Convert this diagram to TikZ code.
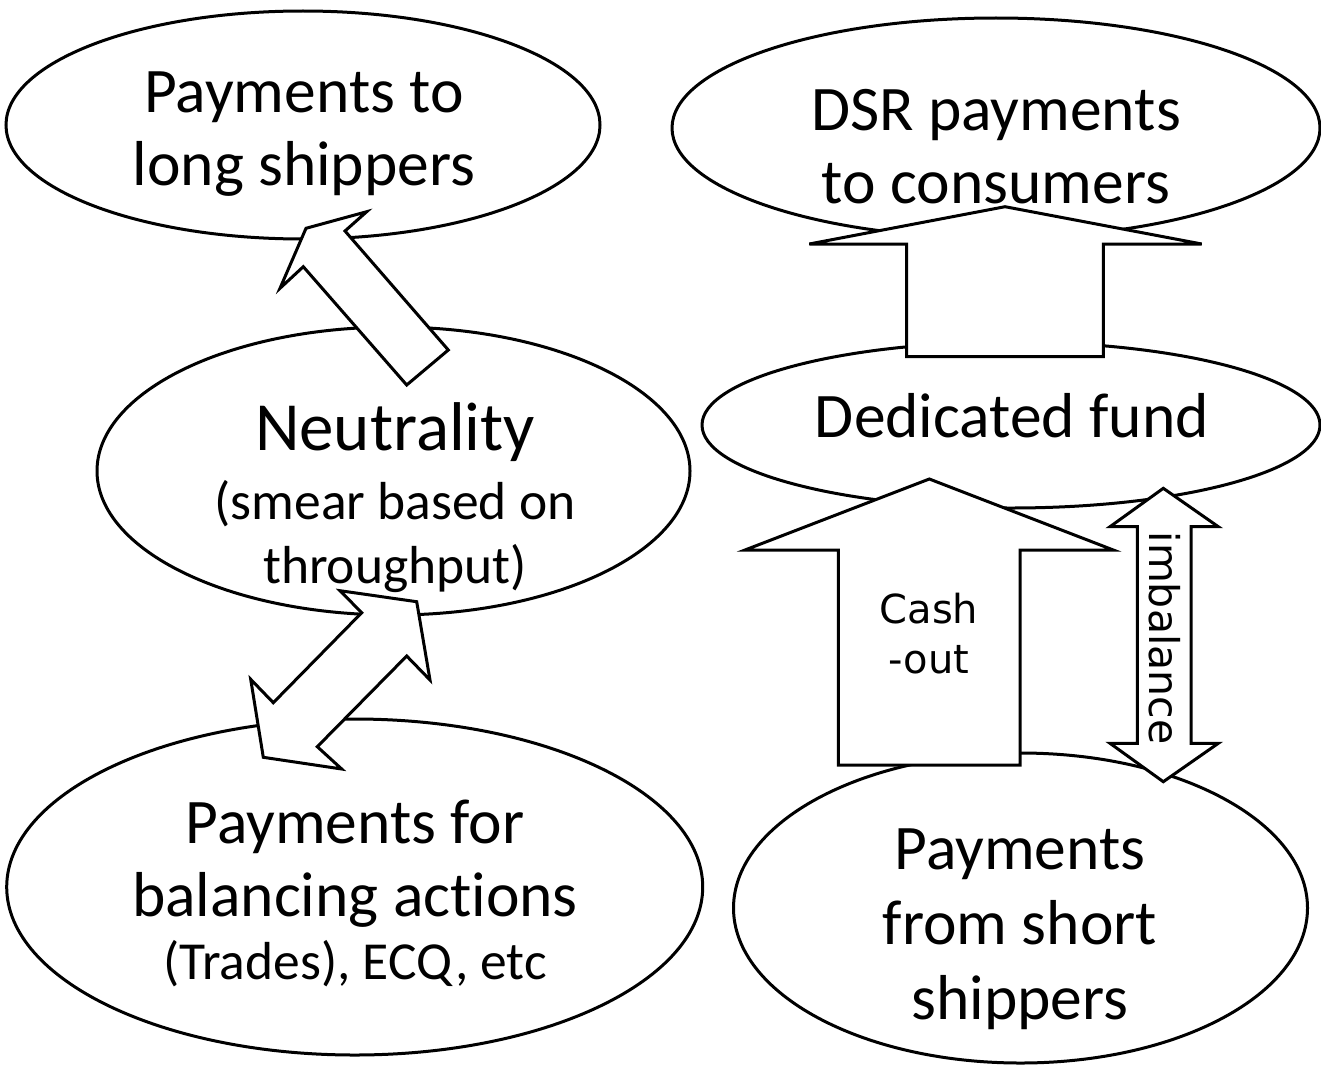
\documentclass[tikz,border=0pt]{standalone}
\usepackage{fontspec}
\setmainfont{Carlito}[Ligatures=NoCommon]
\newfontfamily\labelfont{DejaVu Sans}
\usetikzlibrary{shapes.geometric}

\begin{document}
\begin{tikzpicture}[x=1pt,y=-1pt,
  bubble/.style={draw=black, line width=3pt, ellipse, inner sep=0pt, outer sep=0pt},
  bigtext/.style={font=\fontsize{63.5}{72}\selectfont, anchor=base, inner sep=0pt},
  hugetext/.style={font=\fontsize{69}{80}\selectfont, anchor=base, inner sep=0pt},
  smalltext/.style={font=\fontsize{53.5}{62}\selectfont, anchor=base, inner sep=0pt},
  arrowtext/.style={font=\labelfont\fontsize{40}{50}\selectfont, anchor=base, inner sep=0pt},
  blockarrow/.style={draw=black, fill=white, line width=3pt, line join=miter, miter limit=10},
]
\useasboundingbox (0,0) rectangle (1321,1065);
\fill[white] (0,0) rectangle (1321,1065);

% ---- ellipses ----
\node[bubble, minimum width=594, minimum height=228] (e1) at (303,125) {};
\node[bubble, minimum width=648, minimum height=220] (e2) at (996,128) {};
\node[bubble, minimum width=593, minimum height=288] (e3) at (393.5,471) {};
\node[bubble, minimum width=618, minimum height=166] (e4) at (1011,425) {};
\node[bubble, minimum width=696, minimum height=336] (e5) at (354.7,887) {};
\node[bubble, minimum width=574, minimum height=310] (e6) at (1020.5,908) {};

% ---- ellipse texts ----
\node[bigtext] (t1a) at (304,112) {Payments to};
\node[bigtext] (t1b) at (304,185) {long shippers};

\node[bigtext] (t2a) at (996,130) {DSR payments};
\node[bigtext] (t2b) at (996,203) {to consumers};

\node[hugetext] (t3a) at (395,450) {Neutrality};
\node[smalltext] (t3b) at (395,519) {(smear based on};
\node[smalltext] (t3c) at (395,583) {throughput)};

\node[bigtext] (t4a) at (1012,437) {Dedicated fund};

\node[bigtext] (t5a) at (355,843) {Payments for};
\node[bigtext] (t5b) at (355,916) {balancing actions};
\node[smalltext] (t5c) at (355,979) {(Trades), ECQ, etc};

\node[bigtext] (t6a) at (1020,869) {Payments};
\node[bigtext] (t6b) at (1020,944) {from short};
\node[bigtext] (t6c) at (1020,1019) {shippers};

% ---- block arrows ----
% neutrality -> payments to long shippers
\draw[blockarrow] (306,228.3) -- (366.7,211.7) -- (345,231) -- (448.3,350)
  -- (406.7,385) -- (303.3,266.7) -- (280,288.3) -- cycle;

% neutrality <-> balancing actions
\draw[blockarrow] (340,590.7) -- (416.7,601.7) -- (430,680) -- (406.7,656)
  -- (317.3,746.7) -- (341.7,769) -- (263.3,757.3) -- (250.7,679.3)
  -- (273.3,702.7) -- (361.7,612.7) -- cycle;

% dedicated fund -> DSR payments
\draw[blockarrow] (1005,206.7) -- (1201.7,244) -- (1103.3,244) -- (1103.3,356.7)
  -- (906.7,356.7) -- (906.7,244) -- (809.3,244) -- cycle;

% cash-out: short shippers -> dedicated fund
\draw[blockarrow] (929.3,479) -- (1113.3,550) -- (1020,550) -- (1020,765)
  -- (838.3,765) -- (838.3,550) -- (745,550) -- cycle;

% imbalance double arrow
\draw[blockarrow] (1163.3,488.3) -- (1218.3,526.7) -- (1191,526.7) -- (1191,743.3)
  -- (1218.3,743.3) -- (1163.3,781.7) -- (1110,743.3) -- (1137.3,743.3)
  -- (1137.3,526.7) -- (1110,526.7) -- cycle;

% ---- arrow labels ----
\node[arrowtext] (cash1) at (929,623) {Cash};
\node[arrowtext] (cash2) at (929,673) {-out};
\node[font=\labelfont\fontsize{41}{50}\selectfont, rotate=-90, inner sep=0pt] (imb) at (1165,638) {imbalance};
\end{tikzpicture}
\end{document}
